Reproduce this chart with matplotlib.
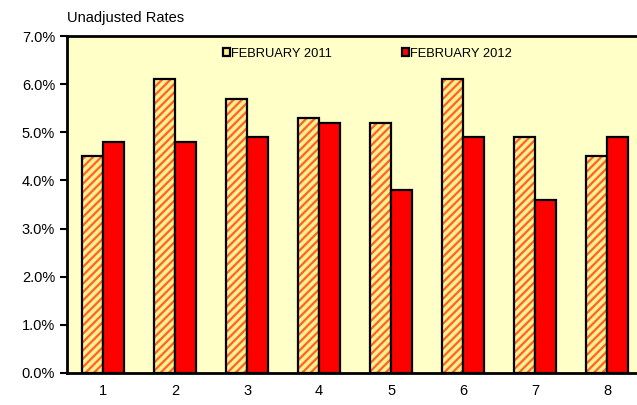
import matplotlib.pyplot as plt
from matplotlib.patches import Patch
import numpy as np

plt.rcParams['font.family'] = ['Liberation Sans', 'DejaVu Sans']
plt.rcParams['hatch.linewidth'] = 1.6

categories = ['1', '2', '3', '4', '5', '6', '7', '8']
feb_2011 = [4.5, 6.1, 5.7, 5.3, 5.2, 6.1, 4.9, 4.5]
feb_2012 = [4.8, 4.8, 4.9, 5.2, 3.8, 4.9, 3.6, 4.9]
y_ticks = [0, 1, 2, 3, 4, 5, 6, 7]

fig = plt.figure(figsize=(6.37, 4.05), dpi=100)
ax = fig.add_axes([67 / 637, 1 - 373 / 405, 1 - 67 / 637 + 0.01, 337 / 405])
ax.set_facecolor('#FFFFC8')

x = np.arange(1, len(categories) + 1)
w = 0.29

# hatched bars: fill + orange stripes, then a black outline on top
ax.bar(x - w / 2, feb_2011, w, color='#FFF08A', edgecolor='#FF6030',
       hatch='////', linewidth=0, zorder=2)
ax.bar(x - w / 2, feb_2011, w, fill=False, edgecolor='black', linewidth=1.6, zorder=3)
ax.bar(x + w / 2, feb_2012, w, color='#FF0000', edgecolor='black', linewidth=1.6, zorder=3)

ax.set_xlim(0.5, 8.5)
ax.set_ylim(0, 7)
ax.set_xticks(x)
ax.set_xticklabels(categories)
ax.set_yticks(y_ticks)
ax.set_yticklabels([f'{v:.1f}%' for v in y_ticks])
ax.tick_params(axis='x', length=0, pad=8, labelsize=10.5)
ax.tick_params(axis='y', length=5, width=1.5, direction='out', labelsize=10.5)

for s in ['left', 'top', 'bottom']:
    ax.spines[s].set_linewidth(2)
ax.spines['right'].set_visible(False)

handles = [
    Patch(facecolor='#FFF08A', edgecolor='black', linewidth=1.6, label='FEBRUARY 2011'),
    Patch(facecolor='#FF0000', edgecolor='black', linewidth=1.6, label='FEBRUARY 2012'),
]
ax.legend(handles=handles, loc='upper left', bbox_to_anchor=(0.25, 1.0), ncol=2,
          frameon=False, fontsize=9.3, handlelength=0.55, handleheight=0.55,
          handletextpad=0.1, columnspacing=5.4)

fig.text(67 / 637, 1 - 18 / 405, 'Unadjusted Rates', fontsize=10.5, va='center', ha='left')

fig.savefig('out.png', dpi=100)
